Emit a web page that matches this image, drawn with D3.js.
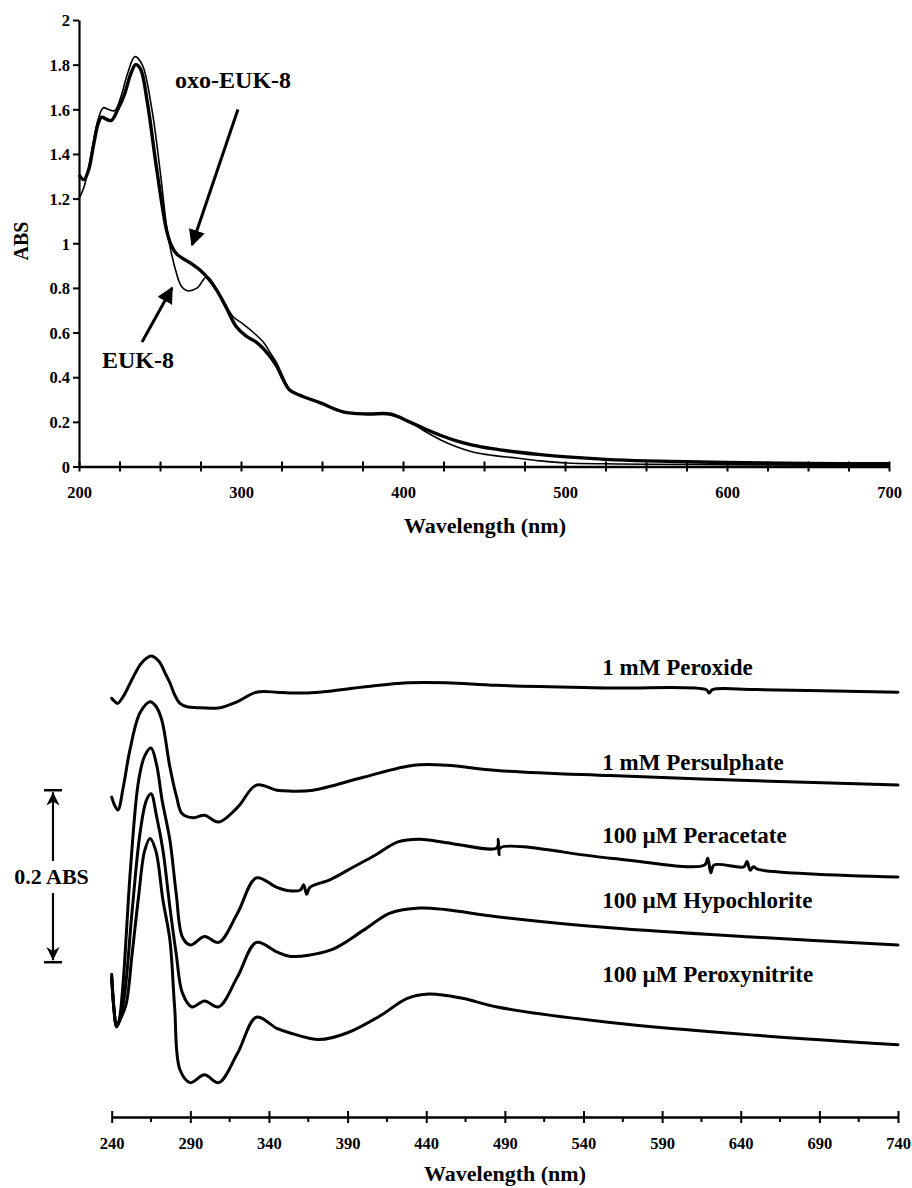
<!DOCTYPE html>
<html><head><meta charset="utf-8">
<script src="https://cdn.jsdelivr.net/npm/d3@7"></script>
<style>
body{margin:0;background:#fff}
text{font-family:"Liberation Serif","Times New Roman",serif;font-weight:bold;fill:#000}
</style>
</head><body>
<svg id="c" width="912" height="1188"></svg>
<script>
// ---------- Top panel data ----------
const topXTickValues = [200,225,250,275,300,325,350,375,400,425,450,475,500,525,550,575,600,625,650,675,700];
const topXLabelValues = [200,300,400,500,600,700];
const topYTickValues = [0,0.2,0.4,0.6,0.8,1,1.2,1.4,1.6,1.8,2];
const topYTickLabels = ["0","0.2","0.4","0.6","0.8","1","1.2","1.4","1.6","1.8","2"];

const euk8Wl  = [200,203,206,209,212,215,218,222,226,230,234.5,239,245,250,255,260,263,267,273,279,287,295,301,308,314,318,322,326,330,336,349,363,378,392,404,413,423,433,443,455,470,485,501,525,550,600,650,700];
const euk8Abs = [1.20,1.25,1.34,1.46,1.56,1.607,1.60,1.594,1.66,1.76,1.836,1.80,1.60,1.33,1.03,0.87,0.81,0.787,0.80,0.85,0.77,0.672,0.64,0.598,0.555,0.51,0.464,0.40,0.343,0.32,0.285,0.245,0.235,0.233,0.20,0.16,0.12,0.088,0.065,0.05,0.038,0.025,0.016,0.012,0.01,0.008,0.006,0.005];

const oxoWl  = [200,203,206,209,212,214,217,220,224,228,232,235,238,242,248,254,257,260.5,268,274.7,280,285,291,297,303,310,316,322,326,330,336,349,363,378,392,404,413,423,433,443,455,470,485,501,525,550,600,650,700];
const oxoAbs = [1.307,1.285,1.33,1.44,1.54,1.565,1.555,1.55,1.60,1.666,1.76,1.80,1.78,1.64,1.33,1.06,0.99,0.95,0.915,0.88,0.84,0.79,0.71,0.627,0.585,0.554,0.51,0.45,0.39,0.343,0.32,0.285,0.245,0.235,0.235,0.20,0.17,0.14,0.115,0.096,0.08,0.065,0.053,0.043,0.032,0.025,0.018,0.014,0.012];

// ---------- Bottom panel data (absorbance incl. vertical offsets) ----------
const botXTickValues = [240,290,340,390,440,490,540,590,640,690,740];
const botXMinorValues = [265,315,365,415,465,515,565,615,665,715];
const seriesNames = ["1 mM Peroxide","1 mM Persulphate","100 \u00b5M Peracetate","100 \u00b5M Hypochlorite","100 \u00b5M Peroxynitrite"];

const peroxideWl  = [240,242,243.8,247,250,253.8,259,265,270,274,277,280,283.4,288,294,309,320,332,345,353,372,400,428,453,485,557,618,620,622,650,740];
const peroxideAbs = [0.487,0.483,0.481,0.488,0.498,0.512,0.528,0.536,0.53,0.516,0.505,0.491,0.481,0.477,0.476,0.476,0.483,0.494,0.494,0.493,0.494,0.500,0.505,0.505,0.502,0.499,0.497,0.493,0.497,0.497,0.494];

const persulWl  = [240,242,244,247.4,251.6,258,264.4,268,271.8,277,281.3,284.7,292,299,308,320,332,345,353,368,400,432,453,485,557,650,740];
const persulAbs = [0.372,0.362,0.357,0.384,0.427,0.47,0.483,0.478,0.462,0.407,0.372,0.353,0.348,0.351,0.343,0.360,0.386,0.380,0.379,0.380,0.395,0.409,0.409,0.403,0.397,0.391,0.386];

const peracWl  = [240,241.5,243,244.5,247,252,257,261,265,268.5,272,277,281,285,290,299,308,320,332,345,353,360,362,364,366,379,394,408,422,436,453,485,485.8,486.3,487,557,617,619,621,623,642,644,646,648,651,740];
const peracAbs = [0.163,0.125,0.105,0.11,0.15,0.29,0.39,0.42,0.429,0.41,0.369,0.322,0.26,0.209,0.200,0.210,0.203,0.237,0.278,0.267,0.263,0.264,0.270,0.259,0.267,0.276,0.291,0.305,0.320,0.323,0.319,0.313,0.323,0.305,0.313,0.301,0.293,0.301,0.284,0.293,0.291,0.297,0.287,0.291,0.288,0.279];

const hypoWl  = [240,241.5,243,244.5,248,253,258,262,265,268.5,272.6,277,281,285,291,299,308,320,332,345,353,379,400,417,436,453,485,557,650,740];
const hypoAbs = [0.160,0.124,0.105,0.11,0.14,0.24,0.33,0.368,0.376,0.35,0.31,0.244,0.19,0.144,0.128,0.135,0.128,0.163,0.203,0.192,0.187,0.194,0.217,0.237,0.243,0.241,0.233,0.220,0.209,0.200];

const pnWl  = [240,241.5,243,244.5,249,253,257,261,264.4,268,272.6,277,280,283.4,290,299,308,320,332,345,353,372,390,411,428,442,463,485,557,650,740];
const pnAbs = [0.166,0.124,0.105,0.11,0.13,0.19,0.255,0.31,0.324,0.31,0.252,0.206,0.128,0.055,0.040,0.049,0.040,0.074,0.116,0.103,0.098,0.090,0.098,0.118,0.138,0.143,0.138,0.128,0.110,0.095,0.084];

// ---------- Layout ----------
const svg = d3.select("#c");
const FONT_TICK = 16.5;
const smooth = d3.curveCatmullRom.alpha(0.5);

const xT = d3.scaleLinear().domain([200,700]).range([79,889]);
const yT = d3.scaleLinear().domain([0,2]).range([466.5,20]);
const xB = d3.scaleLinear().domain([240,740]).range([111.7,898]);
const yB = d3.scaleLinear().domain([0,0.5547]).range([1117,640]);

const defs = svg.append("defs");
defs.append("marker").attr("id","ah").attr("viewBox","0 0 10 10").attr("refX",9).attr("refY",5)
  .attr("markerWidth",5.5).attr("markerHeight",5.5).attr("orient","auto").attr("markerUnits","strokeWidth")
  .append("path").attr("d","M0,0 L10,5 L0,10 Z").attr("fill","#000");
defs.append("marker").attr("id","ah2").attr("viewBox","0 0 10 10").attr("refX",10).attr("refY",5)
  .attr("markerWidth",6.5).attr("markerHeight",6).attr("orient","auto").attr("markerUnits","strokeWidth")
  .append("path").attr("d","M0,0 L10,5 L0,10 L3,5 Z").attr("fill","#000");

// ===== Top panel =====
const gT = svg.append("g");
const yAxis = gT.append("g").attr("transform","translate(79,0)")
  .call(d3.axisLeft(yT).tickValues(topYTickValues).tickSize(6).tickSizeOuter(0)
        .tickFormat((d,i)=>topYTickLabels[i]));
yAxis.select(".domain").attr("stroke","#000").attr("stroke-width",2.2);
yAxis.selectAll(".tick line").attr("stroke","#000").attr("stroke-width",2);
yAxis.selectAll(".tick text").attr("x",-9).attr("dy","0.35em").style("font-size",FONT_TICK+"px")
  .style("font-family",'"Liberation Serif",serif').style("font-weight","bold");

const xAxisT = gT.append("g").attr("transform",`translate(0,${yT(0)})`)
  .call(d3.axisBottom(xT).tickValues(topXTickValues).tickSize(5).tickSizeOuter(0)
        .tickFormat(d => topXLabelValues.includes(d) ? String(d) : ""));
xAxisT.select(".domain").attr("stroke","#000").attr("stroke-width",2.6);
xAxisT.selectAll(".tick line").attr("y1",-5).attr("y2",5).attr("stroke","#000").attr("stroke-width",2);
xAxisT.selectAll(".tick text").attr("y",31).attr("dy",0).style("font-size",FONT_TICK+"px")
  .style("font-family",'"Liberation Serif",serif').style("font-weight","bold");

gT.append("text").attr("x",485).attr("y",533).attr("text-anchor","middle").style("font-size","22px").text("Wavelength (nm)");
gT.append("text").attr("transform","translate(28,241) rotate(-90)").attr("text-anchor","middle").style("font-size","20px").text("ABS");

const lineTop = (wl, ab) => d3.line().x((d,i)=>xT(wl[i])).y((d,i)=>yT(ab[i])).curve(smooth)(ab);
gT.append("path").attr("d",lineTop(oxoWl,oxoAbs)).attr("fill","none").attr("stroke","#000").attr("stroke-width",3.4).attr("stroke-linejoin","round");
gT.append("path").attr("d",lineTop(euk8Wl,euk8Abs)).attr("fill","none").attr("stroke","#000").attr("stroke-width",1.6).attr("stroke-linejoin","round");

const topAnnot = [
  {label:"oxo-EUK-8", tx:259.3, ty:1.697, from:[298.1,1.599], to:[269.8,0.993]},
  {label:"EUK-8", tx:214.2, ty:0.442, from:[238.9,0.558], to:[257.4,0.80]}
];
topAnnot.forEach(a=>{
  gT.append("text").attr("x",xT(a.tx)).attr("y",yT(a.ty)).style("font-size","24px").text(a.label);
  gT.append("line").attr("x1",xT(a.from[0])).attr("y1",yT(a.from[1])).attr("x2",xT(a.to[0])).attr("y2",yT(a.to[1]))
    .attr("stroke","#000").attr("stroke-width",3).attr("marker-end","url(#ah)");
});

// ===== Bottom panel =====
const gB = svg.append("g");
const xAxisB = gB.append("g").attr("transform",`translate(0,${yB(0)})`)
  .call(d3.axisBottom(xB).tickValues(botXTickValues).tickSize(6).tickSizeOuter(0).tickFormat(d3.format("d")));
xAxisB.select(".domain").attr("stroke","#000").attr("stroke-width",2.6);
xAxisB.selectAll(".tick line").attr("y1",-6).attr("y2",6).attr("stroke","#000").attr("stroke-width",2);
xAxisB.selectAll(".tick text").attr("y",32).attr("dy",0).style("font-size",FONT_TICK+"px")
  .style("font-family",'"Liberation Serif",serif').style("font-weight","bold");
gB.append("g").selectAll("line").data(botXMinorValues).join("line")
  .attr("x1",d=>xB(d)).attr("x2",d=>xB(d)).attr("y1",yB(0)).attr("y2",yB(0)+5)
  .attr("stroke","#000").attr("stroke-width",2);
gB.append("text").attr("x",505).attr("y",1181).attr("text-anchor","middle").style("font-size","22px").text("Wavelength (nm)");

const botSeries = [
  [peroxideWl,peroxideAbs],[persulWl,persulAbs],[peracWl,peracAbs],[hypoWl,hypoAbs],[pnWl,pnAbs]
];
const lineBot = (wl, ab) => d3.line().x((d,i)=>xB(wl[i])).y((d,i)=>yB(ab[i])).curve(smooth)(ab);
botSeries.forEach(([wl,ab])=>{
  gB.append("path").attr("d",lineBot(wl,ab)).attr("fill","none").attr("stroke","#000")
    .attr("stroke-width",3).attr("stroke-linejoin","round").attr("stroke-linecap","round");
});

const labelAnchor = {wl:552, abs:[0.514,0.403,0.319,0.243,0.157]};
seriesNames.forEach((n,i)=>{
  gB.append("text").attr("x",xB(labelAnchor.wl)).attr("y",yB(labelAnchor.abs[i])).style("font-size","23px").text(n);
});

// scale bar: 0.2 ABS
const barBase = 0.180, barSpan = 0.2, barX = 53;
const yTopBar = yB(barBase+barSpan), yBotBar = yB(barBase);
gB.append("line").attr("x1",barX-9).attr("x2",barX+9).attr("y1",yTopBar).attr("y2",yTopBar).attr("stroke","#000").attr("stroke-width",2.5);
gB.append("line").attr("x1",barX-9).attr("x2",barX+9).attr("y1",yBotBar).attr("y2",yBotBar).attr("stroke","#000").attr("stroke-width",2.5);
gB.append("line").attr("x1",barX).attr("x2",barX).attr("y1",861).attr("y2",yTopBar+2)
  .attr("stroke","#000").attr("stroke-width",2.2).attr("marker-end","url(#ah2)");
gB.append("line").attr("x1",barX).attr("x2",barX).attr("y1",893).attr("y2",yBotBar-2)
  .attr("stroke","#000").attr("stroke-width",2.2).attr("marker-end","url(#ah2)");
gB.append("text").attr("x",51.5).attr("y",884).attr("text-anchor","middle").style("font-size","22px").text("0.2 ABS");
</script>
</body></html>
